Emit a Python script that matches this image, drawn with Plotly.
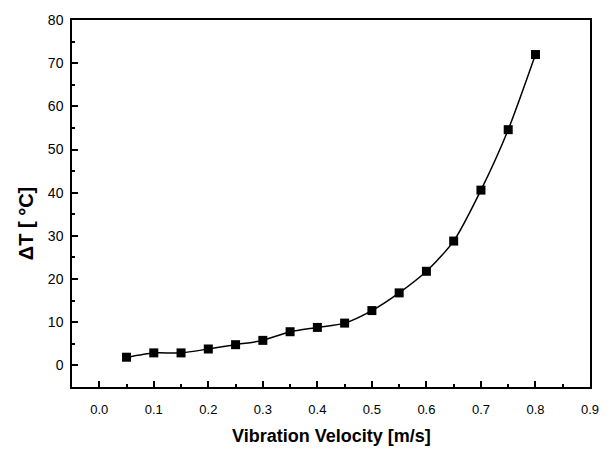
import plotly.graph_objects as go

velocity = [0.05, 0.10, 0.15, 0.20, 0.25, 0.30, 0.35, 0.40,
            0.45, 0.50, 0.55, 0.60, 0.65, 0.70, 0.75, 0.80]
delta_t = [1.9, 2.9, 2.9, 3.8, 4.8, 5.8, 7.8, 8.8,
           9.8, 12.7, 16.8, 21.8, 28.8, 40.6, 54.6, 72.0]

x_ticks = [0.0, 0.1, 0.2, 0.3, 0.4, 0.5, 0.6, 0.7, 0.8, 0.9]
y_ticks = [0, 10, 20, 30, 40, 50, 60, 70, 80]

FONT = "Liberation Sans, Arial"

fig = go.Figure()
fig.add_trace(go.Scatter(
    x=velocity, y=delta_t, mode="lines+markers",
    line=dict(color="black", width=1.5, shape="spline", smoothing=0.7),
    marker=dict(symbol="square", size=9, color="black"),
    showlegend=False,
))

axis_common = dict(
    showgrid=False, zeroline=False, showline=True, linecolor="black",
    linewidth=1.5, mirror=True, ticks="inside", ticklen=6, tickwidth=1.5,
    tickcolor="black",
)

fig.update_xaxes(
    range=[-0.05, 0.9], tickvals=x_ticks,
    ticktext=[f"{v:.1f}" for v in x_ticks],
    tickfont=dict(family=FONT, size=13, color="black"),
    ticklabelstandoff=10,
    minor=dict(dtick=0.05, ticks="inside", ticklen=3, tickcolor="black"),
    **axis_common,
)
fig.update_yaxes(
    range=[-5, 80], tickvals=y_ticks,
    tickfont=dict(family=FONT, size=14, color="black"),
    ticklabelstandoff=4,
    minor=dict(dtick=5, ticks="inside", ticklen=3, tickcolor="black"),
    **axis_common,
)

# Axis titles
fig.add_annotation(
    text="<b>Vibration Velocity [m/s]</b>", xref="paper", yref="paper",
    x=0.5, y=-0.134, xanchor="center", yanchor="middle", showarrow=False,
    font=dict(family=FONT, size=18, color="black"),
)
fig.add_annotation(
    text="<b>ΔT [ °C]</b>", xref="paper", yref="paper", textangle=-90,
    x=-0.0885, y=0.444, xanchor="center", yanchor="middle", showarrow=False,
    font=dict(family=FONT, size=20, color="black"),
)

fig.update_layout(
    width=611, height=453,
    margin=dict(l=72, r=19, t=13, b=66),
    plot_bgcolor="white", paper_bgcolor="white",
)

fig.write_html("out.html")
